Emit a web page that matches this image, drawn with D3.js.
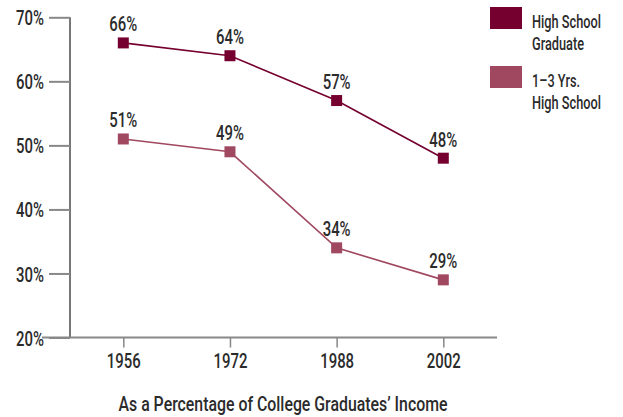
<!DOCTYPE html>
<html><head><meta charset="utf-8">
<script src="https://cdn.jsdelivr.net/npm/d3@7/dist/d3.min.js"></script>
<style>
body{margin:0;background:#fff;}
svg text{font-family:Roboto,"DejaVu Sans Condensed",sans-serif;font-weight:500;fill:#2b2b2b;}
</style></head>
<body><svg id="c" width="623" height="417"></svg>
<script>
const years = ["1956","1972","1988","2002"];
const hsGrad = [66,64,57,48];
const hs13 = [51,49,34,29];
const yTicks = [20,30,40,50,60,70];
const seriesNames = [["High School","Graduate"],["1–3 Yrs.","High School"]];
const colors = ["#75002f","#a04860"];
const xTitle = "As a Percentage of College Graduates’ Income";

const svg = d3.select("#c");
const x = d3.scalePoint().domain(years).range([123.3,443.3]);
const y = d3.scaleLinear().domain([20,70]).range([337.5,17.3]);

const fs = 21;
const K = 0.71;
function squeeze(sel, k){
  sel.each(function(){
    const w = this.getComputedTextLength();
    d3.select(this).attr("textLength", w*k).attr("lengthAdjust","spacingAndGlyphs");
  });
}
// y axis
const gy = svg.append("g").attr("transform","translate(70,0)")
  .call(d3.axisLeft(y).tickValues(yTicks).tickSize(21).tickFormat(d=>d+"%"));
gy.select(".domain").attr("stroke","#777").attr("stroke-width",2).attr("d","M0,17.3V337.5");
gy.selectAll(".tick line").attr("stroke","#888").attr("stroke-width",2);
gy.selectAll(".tick text").attr("font-size",fs).attr("x",-26).attr("dy","0.36em").attr("fill","#2b2b2b");
squeeze(gy.selectAll(".tick text"),K);

// x axis
const gx = svg.append("g").attr("transform","translate(0,337.5)")
  .call(d3.axisBottom(x).tickSize(10).tickPadding(6));
gx.select(".domain").attr("stroke","#888").attr("stroke-width",2).attr("d","M42,0H497");
gx.selectAll(".tick line").attr("stroke","#888").attr("stroke-width",1.5);
gx.selectAll(".tick text").attr("font-size",fs).attr("fill","#2b2b2b");
squeeze(gx.selectAll(".tick text"),K);

const t = svg.append("text").attr("x",283).attr("y",411).attr("text-anchor","middle")
  .attr("font-size",fs).text(xTitle);
squeeze(t,0.755);

const data = [hsGrad, hs13];
data.forEach((vals,i)=>{
  const pts = vals.map((v,j)=>[x(years[j]),y(v)]);
  svg.append("path").attr("d",d3.line()(pts)).attr("fill","none")
    .attr("stroke",colors[i]).attr("stroke-width",1.6);
  svg.selectAll(null).data(vals).enter().append("rect")
    .attr("x",(v,j)=>x(years[j])-5.5).attr("y",v=>y(v)-5.5)
    .attr("width",11).attr("height",11).attr("fill",colors[i]);
  const lab = svg.selectAll(null).data(vals).enter().append("text")
    .attr("x",(v,j)=>x(years[j])).attr("y",v=>y(v)-11.5)
    .attr("text-anchor","middle").attr("font-size",fs).text(v=>v+"%");
  squeeze(lab,K);
});

// legend
seriesNames.forEach((nm,i)=>{
  const top = 7 + i*59;
  svg.append("rect").attr("x",490).attr("y",top).attr("width",32).attr("height",22).attr("fill",colors[i]);
  nm.forEach((line,k)=>{
    svg.append("g").attr("transform",`translate(532,${top+21+k*22}) scale(0.69,1)`)
      .append("text").attr("x",0).attr("y",0).attr("font-size",18.5).text(line);
  });
});
</script></body></html>
